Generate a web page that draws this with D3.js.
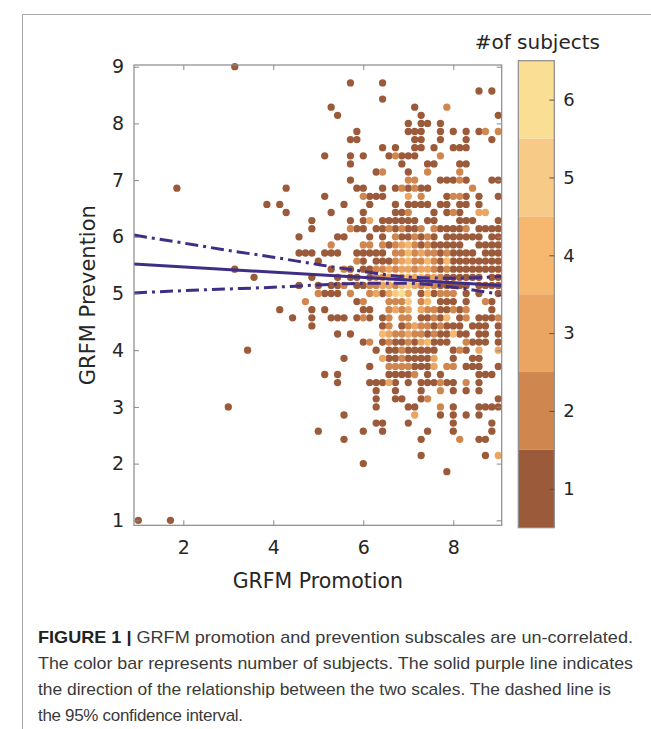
<!DOCTYPE html>
<html>
<head>
<meta charset="utf-8">
<script src="https://cdn.jsdelivr.net/npm/d3@7"></script>
<style>
body { margin: 0; background: #fff; }
</style>
</head>
<body>
<div id="hook-grfm"></div>
<script>
'use strict';

(function() {

// GRFM scores are item means on a 1/7 grid: score = 1 + step/7
var promotionTicks = [2, 4, 6, 8];
var preventionTicks = [1, 2, 3, 4, 5, 6, 7, 8, 9];
var countLevels = [1, 2, 3, 4, 5, 6];
var countColors = ['#9b5a3a', '#d0864f', '#eba562', '#f6b86f', '#f8ca87', '#f9de93'];

// [prevention step, promotion steps on that row]; "k:n" = n subjects in the cell
var cells = [
  [56, '15'],
  [54, '33 38'],
  [53, '53 55'],
  [52, '38'],
  [51, '30 43 48:2'],
  [50, '31 44 56'],
  [49, '42 44 45 47'],
  [48, '34 42 43 44 47 49 51 53 54:2 56:2'],
  [47, '33 34 43 44 47 51 55'],
  [46, '38 40 43 44 46 49 50 51'],
  [45, '29 33 35 39 40:2 41 42 43 47:2'],
  [44, '33 41 45 46 50 51'],
  [43, '37 38:2 42 45:2 50:2'],
  [42, '33 42:2 43:2 47 48 49 50:2 51 55 56'],
  [41, '6 23 34 35 38 40 41:2 42 43:2 44 45 52:2'],
  [40, '29 35:2 36 37 38 42:3 44:2 48 49:2 50:2 51 53 56'],
  [39, '20 22 32 36 40 42 43 44 45 47 48 50 51 53'],
  [38, '23 30 35 40 41 42:2 46 48 49:2 50 53:3 54:3'],
  [37, '27 33 35 36:3 38 39 40 41 42 43 45 46 50 51 52 56'],
  [36, '27 33:2 34 35 37 38 39:2 40 41:2 42 43 44:2 46:2 47 48 49 50 51:2 53 54 55 56'],
  [35, '25 31 32 36 38 40:2 41 42 43:2 44 45:2 46 48 49 50 51 52 53 55 56'],
  [34, '30:2 35:2 36:2 38:2 39 40:2 41:3 42:4 43:2 44 45:2 46 47 48 49 50 53 54 55 56'],
  [33, '25 26 27 29 30 31 34 35 36 37 38 40:2 41:2 42:4 43:2 44:3 45:2 46:2 47 48:2 49 50 51 52 54 55 56'],
  [32, '28 34:2 35 37 38 39 40:2 41:3 42:4 43:2 44:2 45:4 46:2 47 48:4 49 50 51 52 53 54 55 56'],
  [31, '15 30 32:2 33 35 36 37:2 38:2 39:3 40:2 41:3 42:3 43:2 44:3 45:3 46:2 47 48:2 49 50 51 52 53 54 55 56'],
  [30, '18 27 31 33 34 36 37:2 38:2 39:3 40:3 41:2 42:4 43:3 44:4 45:2 46:3 47:2 48 49 50 51 52 53 55 56'],
  [29, '25 28 30 31 32:2 34 35 36:2 37:2 38:3 39:3 40:2 41:4 42:5 43:3 44:2 45:3 46:2 47 48 49 50 51 53 54 55 56'],
  [28, '28:2 29 30 31 33:2 36:2 37:3 38 39:3 40:5 41:6 42:3 44 45:4 46 47:2 48:2 49:2 51 53 56'],
  [27, '26:2 34 35:2 39:2 40:2 41:2 42:5 44:2 45:4 47 48 49 51 54:2 55'],
  [26, '22 27 29 35 36 39:2 40:3 41:2 42:3 44:3 45:2 46:2 47 48 49:2 50 51:2 55'],
  [25, '24 27 30 31 32 34 35:2 36 38 39:2 41:2 42:2 44 45 46:2 47 48:4 50 51:2 53 54 55 56:2'],
  [24, '27 38 39:2 41 42:2 43:3 44:2 45:2 46 47:2 48 49 50 52 53 54 56'],
  [23, '31 33 38:4 39:3 40:2 41:2 42:3 43:2 44:2 45 46:2 47 48 49:4 50 51 53 54 56'],
  [22, '35 36:2 38 39:2 40 41 42:2 43 44:3 45:4 46 47 48 51:2 52 53 54 56'],
  [21, '17 37 39 40 41:2 42 43 44 45 46 49 50:2 51 53:3 56:3'],
  [20, '32 38:3 39 40 41:2 42 43 44 45 46:3 49 52 53'],
  [19, '36 39:2 40:2 41:2 42:2 43 44 45 46:3 48:2 49:2 51 52 53 56'],
  [18, '29 31 39 40 41 42 43:2 45 47 53 54 55'],
  [17, '31 36 37 38 39:3 40 42 44 45 46 47:2 48 49 51:2 53'],
  [16, '37 40 44 47:2 49 51 53'],
  [15, '37 40 41 44 45:2 56'],
  [14, '14 37 42 43 47:2 49 53 54 55 56'],
  [13, '32 43:3 47 49 51 53'],
  [12, '37 38 42 49 55'],
  [11, '28 35 38 45 49 55'],
  [10, '32 44 50:2 53 54'],
  [8, '44 54 56:3'],
  [7, '35'],
  [6, '48'],
  [0, '0 5']
];

// regression line and its 95% confidence bounds
var fitX = [0.904, 9.076];
var fitY = [5.52, 5.14];
var ciX = [0.904, 2, 3, 4, 5, 6, 7, 8, 9.076];
var ciUpper = [6.03, 5.89, 5.76, 5.64, 5.51, 5.39, 5.29, 5.27, 5.30];
var ciLower = [5.01, 5.05, 5.08, 5.11, 5.15, 5.18, 5.18, 5.11, 4.98];

var captionLines = [
  ['FIGURE 1 |', ' GRFM promotion and prevention subscales are un-correlated.'],
  ['', 'The color bar represents number of subjects. The solid purple line indicates'],
  ['', 'the direction of the relationship between the two scales. The dashed line is'],
  ['', 'the 95% confidence interval.']
];

var options = {
  width: 651,
  height: 729,
  left: 134,
  right: 501.7,
  top: 65,
  bottom: 525.3,
  dotRadius: 3.65,
  lineColor: '#3f2d86',
  axisColor: '#8a8a8a',
  textColor: '#262626',
  font: 'DejaVu Sans, sans-serif'
};

function toPoints() {
  var pts = [];
  cells.forEach(function(row) {
    row[1].split(' ').forEach(function(tok) {
      var parts = tok.split(':');
      pts.push({
        promotion: 1 + (+parts[0]) / 7,
        prevention: 1 + row[0] / 7,
        n: parts.length > 1 ? +parts[1] : 1
      });
    });
  });
  // lighter (more subjects) drawn last
  pts.sort(function(a, b) { return a.n - b.n; });
  return pts;
}

function update(options) {
  var svg = d3.select('#hook-grfm')
    .append('svg')
    .attr('width', options.width)
    .attr('height', options.height)
    .style('display', 'block')
    .style('font-family', options.font);

  // page frame
  svg.append('line')
    .attr('x1', 22.5).attr('x2', options.width)
    .attr('y1', 14.5).attr('y2', 14.5)
    .style('stroke', '#a8a8a8').style('stroke-width', 1);
  svg.append('line')
    .attr('x1', 22.5).attr('x2', 22.5)
    .attr('y1', 14.5).attr('y2', options.height)
    .style('stroke', '#a8a8a8').style('stroke-width', 1);

  var x = d3.scaleLinear().domain([0.904, 9.076]).range([options.left, options.right]);
  var y = d3.scaleLinear().domain([0.912, 9.03]).range([options.bottom, options.top]);
  var color = d3.scaleOrdinal().domain(countLevels).range(countColors);

  var plot = svg.append('g');

  plot.selectAll('circle')
    .data(toPoints())
    .enter()
    .append('circle')
    .attr('cx', function(d) { return x(d.promotion); })
    .attr('cy', function(d) { return y(d.prevention); })
    .attr('r', options.dotRadius)
    .style('fill', function(d) { return color(d.n); })
    .style('stroke', 'none');

  // fit lines
  var fitLine = d3.line()
    .x(function(d) { return x(d[0]); })
    .y(function(d) { return y(d[1]); });

  [ciUpper, ciLower].forEach(function(bound) {
    plot.append('path')
      .datum(ciX.map(function(v, i) { return [v, bound[i]]; }))
      .attr('d', fitLine.curve(d3.curveMonotoneX))
      .style('fill', 'none')
      .style('stroke', options.lineColor)
      .style('stroke-width', 3)
      .style('stroke-dasharray', '13,5,3,5');
  });

  plot.append('path')
    .datum(fitX.map(function(v, i) { return [v, fitY[i]]; }))
    .attr('d', fitLine.curve(d3.curveLinear))
    .style('fill', 'none')
    .style('stroke', options.lineColor)
    .style('stroke-width', 3);

  // axes, ticks pointing inward
  var ax = svg.append('g').attr('class', 'axes');

  ax.append('g')
    .attr('transform', 'translate(0,' + options.bottom + ')')
    .call(d3.axisBottom(x).tickValues(promotionTicks).tickSize(-5).tickPadding(15).tickSizeOuter(0));
  ax.append('g')
    .attr('transform', 'translate(0,' + options.top + ')')
    .call(d3.axisTop(x).tickValues(promotionTicks).tickSize(-5).tickFormat('').tickSizeOuter(0));
  ax.append('g')
    .attr('transform', 'translate(' + options.left + ',0)')
    .call(d3.axisLeft(y).tickValues(preventionTicks).tickSize(-5).tickPadding(10).tickSizeOuter(0));
  ax.append('g')
    .attr('transform', 'translate(' + options.right + ',0)')
    .call(d3.axisRight(y).tickValues(preventionTicks).tickSize(-5).tickFormat('').tickSizeOuter(0));

  ax.selectAll('.domain').remove();
  ax.selectAll('.tick line').style('stroke', options.axisColor);
  ax.selectAll('.tick text')
    .style('font-family', options.font)
    .style('font-size', '19px')
    .style('fill', options.textColor);

  svg.append('rect')
    .attr('x', options.left).attr('y', options.top)
    .attr('width', options.right - options.left)
    .attr('height', options.bottom - options.top)
    .style('fill', 'none')
    .style('stroke', options.axisColor)
    .style('stroke-width', 1.2);

  svg.append('text')
    .attr('x', (options.left + options.right) / 2)
    .attr('y', 588)
    .attr('text-anchor', 'middle')
    .style('font-size', '20.5px')
    .style('fill', options.textColor)
    .text('GRFM Promotion');

  svg.append('text')
    .attr('transform', 'translate(95,' + ((options.top + options.bottom) / 2) + ') rotate(-90)')
    .attr('text-anchor', 'middle')
    .style('font-size', '21px')
    .style('fill', options.textColor)
    .text('GRFM Prevention');

  // colour bar
  var cb = { left: 518.3, width: 36, top: 60.7, bottom: 527.7 };
  var cy = d3.scaleLinear().domain([0.5, 6.5]).range([cb.bottom, cb.top]);
  var bar = svg.append('g');

  bar.selectAll('rect')
    .data(countLevels)
    .enter()
    .append('rect')
    .attr('x', cb.left)
    .attr('y', function(d) { return cy(d + 0.5); })
    .attr('width', cb.width)
    .attr('height', function(d) { return cy(d - 0.5) - cy(d + 0.5); })
    .style('fill', function(d) { return color(d); });

  bar.append('rect')
    .attr('x', cb.left).attr('y', cb.top)
    .attr('width', cb.width).attr('height', cb.bottom - cb.top)
    .style('fill', 'none')
    .style('stroke', options.axisColor)
    .style('stroke-width', 1.2);

  bar.append('g')
    .attr('transform', 'translate(' + (cb.left + cb.width) + ',0)')
    .call(d3.axisRight(cy).tickValues(countLevels).tickFormat(d3.format('d'))
      .tickSize(-5).tickPadding(9).tickSizeOuter(0))
    .call(function(g) {
      g.select('.domain').remove();
      g.selectAll('.tick line').style('stroke', '#555');
      g.selectAll('.tick text')
        .style('font-family', options.font)
        .style('font-size', '18px')
        .style('fill', options.textColor);
    });

  svg.append('text')
    .attr('x', 600)
    .attr('y', 49)
    .attr('text-anchor', 'end')
    .style('font-size', '20px')
    .style('fill', options.textColor)
    .text('#of subjects');

  // caption
  var cap = svg.append('g')
    .style('font-family', 'Liberation Sans, Arial, sans-serif')
    .style('font-size', '17px')
    .style('fill', '#3a3a3a');
  var capWidths = [595, 595, 573, 205];
  captionLines.forEach(function(l, i) {
    var t = cap.append('text')
      .attr('x', 38)
      .attr('y', 643 + i * 26)
      .attr('textLength', capWidths[i])
      .attr('lengthAdjust', i < 3 ? 'spacingAndGlyphs' : 'spacing');
    if (l[0]) {
      t.append('tspan').style('font-weight', 'bold').style('fill', '#222').text(l[0]);
    }
    t.append('tspan').text(l[1]);
  });
}

update(options);

}());
</script>
</body>
</html>
